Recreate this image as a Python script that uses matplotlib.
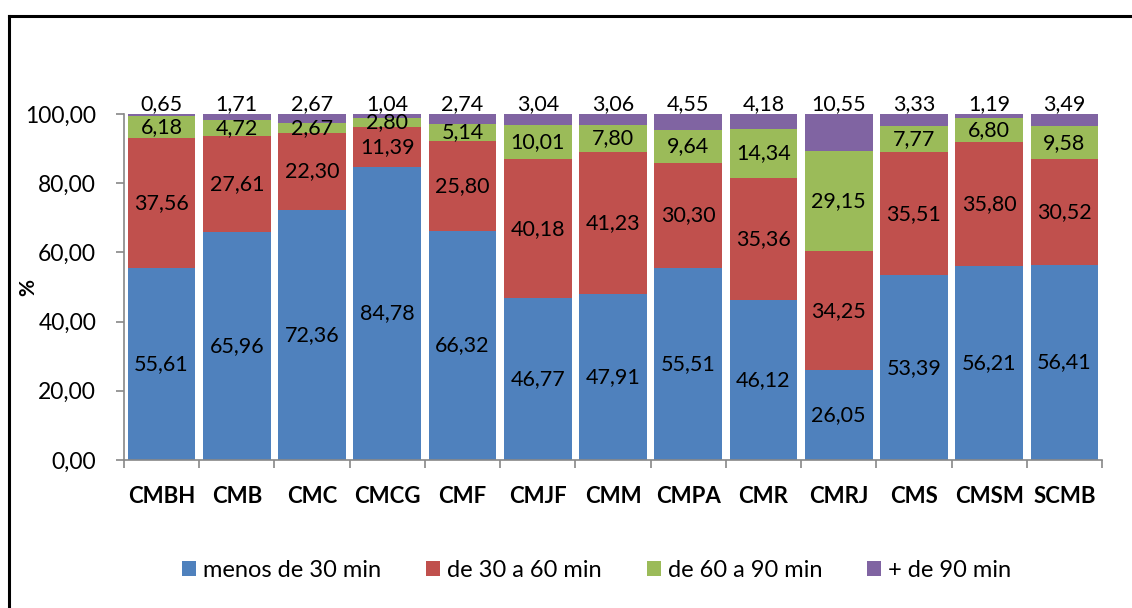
import matplotlib
matplotlib.use("Agg")
import matplotlib.pyplot as plt
from matplotlib.lines import Line2D
import numpy as np

plt.rcParams["font.family"] = ["Lato", "DejaVu Sans"]

# ---------------------------------------------------------------- data
units = ["CMBH", "CMB", "CMC", "CMCG", "CMF", "CMJF", "CMM", "CMPA",
         "CMR", "CMRJ", "CMS", "CMSM", "SCMB"]
menos_30 = [55.61, 65.96, 72.36, 84.78, 66.32, 46.77, 47.91, 55.51,
            46.12, 26.05, 53.39, 56.21, 56.41]
de_30_60 = [37.56, 27.61, 22.30, 11.39, 25.80, 40.18, 41.23, 30.30,
            35.36, 34.25, 35.51, 35.80, 30.52]
de_60_90 = [6.18, 4.72, 2.67, 2.80, 5.14, 10.01, 7.80, 9.64,
            14.34, 29.15, 7.77, 6.80, 9.58]
mais_90 = [0.65, 1.71, 2.67, 1.04, 2.74, 3.04, 3.06, 4.55,
           4.18, 10.55, 3.33, 1.19, 3.49]

series = [
    ("menos de 30 min", menos_30, "#4F81BD"),
    ("de 30 a 60 min", de_30_60, "#C0504D"),
    ("de 60 a 90 min", de_60_90, "#9BBB59"),
    ("+ de 90 min", mais_90, "#8064A2"),
]
yticks = [0, 20, 40, 60, 80, 100]


def br(v):
    return f"{v:.2f}".replace(".", ",")


fig = plt.figure(figsize=(11.32, 6.08), dpi=100)
ax = fig.add_axes([0.1095, 0.2434, 0.864, 0.569])

x = np.arange(len(units))
bottom = np.zeros(len(units))
for i, (name, vals, col) in enumerate(series):
    vals = np.array(vals)
    ax.bar(x, vals, 0.9, bottom=bottom, color=col, label=name, zorder=2)
    for xi, b, v in zip(x, bottom, vals):
        # the last segment's label sits on top of the stack
        yl = 102.8 if i == len(series) - 1 else b + v / 2
        ax.text(xi, yl, br(v), ha="center", va="center", fontsize=15.5,
                color="black", clip_on=False, zorder=3)
    bottom += vals

ax.set_xlim(-0.5, len(units) - 0.5)
ax.set_ylim(0, 100)
ax.set_yticks(yticks)
ax.set_yticklabels([br(t) for t in yticks], fontsize=16.5)
ax.set_xticks(x)
ax.set_xticklabels(units, fontsize=16, fontweight="bold")
ax.set_xticks(np.arange(len(units) + 1) - 0.5, minor=True)
ax.tick_params(axis="x", which="major", length=0, pad=19)
ax.tick_params(axis="x", which="minor", length=6, color="#888888", width=1.2)
ax.tick_params(axis="y", length=6, color="#888888", width=1.2, pad=14)
ax.set_ylabel("%", fontsize=15, fontweight="bold")
ax.yaxis.set_label_coords(-0.088, 0.5)
for s in ("top", "right"):
    ax.spines[s].set_visible(False)
for s in ("left", "bottom"):
    ax.spines[s].set_color("#888888")
    ax.spines[s].set_linewidth(1.2)

fig.legend(loc="center", bbox_to_anchor=(0.527, 0.062), ncol=4, frameon=False,
           fontsize=17, handlelength=0.6, handleheight=0.6,
           handletextpad=0.3, columnspacing=1.9)

# chart frame
bx = 8.5 / 1132
by = 1 - 15.5 / 608
fig.add_artist(Line2D([bx, bx], [0, by], transform=fig.transFigure,
                      color="black", linewidth=2.2))
fig.add_artist(Line2D([bx, 1], [by, by], transform=fig.transFigure,
                      color="black", linewidth=2.2))

fig.savefig("out.png", dpi=100)
